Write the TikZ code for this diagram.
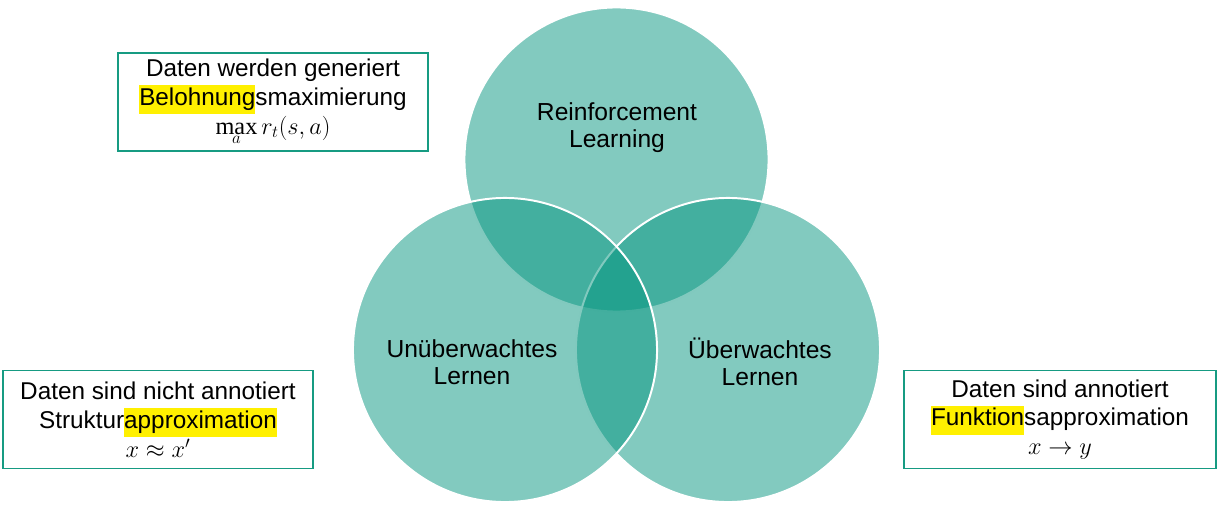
\documentclass[tikz,border=0pt]{standalone}
\usepackage[no-math]{fontspec}
\setmainfont{Liberation Sans}
\newfontfamily\formelschrift{Liberation Serif}

\definecolor{venn}{RGB}{5,149,127}
\definecolor{rahmen}{RGB}{22,155,130}
\definecolor{marker}{RGB}{255,240,0}

\newcommand{\markiert}[1]{{\setlength{\fboxsep}{0pt}\colorbox{marker}{\strut #1}}}
\newcommand{\maxop}{\mathop{\hbox{\formelschrift max}}}

\begin{document}
\begin{tikzpicture}[x=0.025cm, y=-0.025cm,
    kreis/.style={circle, minimum size=7.6cm, inner sep=0pt,
      fill=venn, fill opacity=0.5, draw=white, draw opacity=1, line width=1.4pt},
    kreistext/.style={align=center, font=\fontsize{17.5pt}{19pt}\selectfont},
    infobox/.style={draw=rahmen, line width=1.4pt, fill=white, align=center,
      minimum width=7.75cm, minimum height=2.45cm, inner sep=0pt,
      font=\fontsize{17.28pt}{20.5pt}\selectfont}]

  \useasboundingbox (0,0) rectangle (1224,517);

  % Venn circles
  \node[kreis] (rl) at (616.5,159.5) {};
  \node[kreis] (ueb) at (728,350) {};
  \node[kreis] (unueb) at (505,350) {};

  \node[kreistext] (rltext) at (617,128) {Reinforcement\\Learning};
  \node[kreistext] (unuebtext) at (472,362) {Unüberwachtes\\Lernen};
  \node[kreistext] (uebtext) at (760,362) {Überwachtes\\Lernen};

  % Boxes
  \node[infobox] (rlbox) at (273,102)
    {Daten werden generiert\\\markiert{Belohnung}smaximierung\\$\maxop\limits_a r_t(s,a)$};
  \node[infobox] (unuebbox) at (158,419.5)
    {Daten sind nicht annotiert\\Struktur\markiert{approximation}\\$x \approx x'$};
  \node[infobox, minimum width=7.8cm] (uebbox) at (1060,419.5)
    {Daten sind annotiert\\\markiert{Funktion}sapproximation\\$x \rightarrow y$};
\end{tikzpicture}
\end{document}
